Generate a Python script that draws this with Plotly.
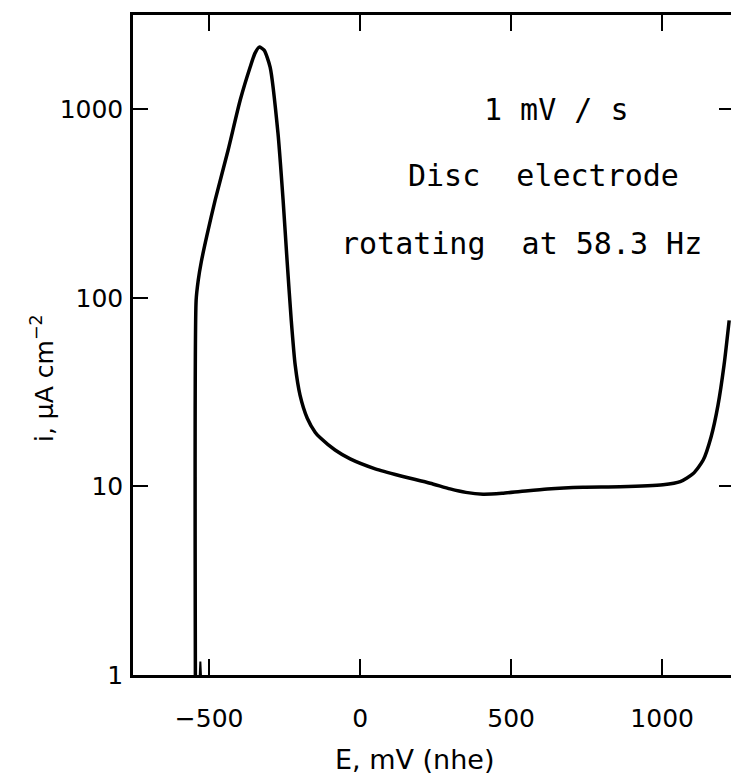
import plotly.graph_objects as go

# Potential (mV vs nhe) and current density (uA cm^-2)
E_mV = [-545, -543, -536, -526, -507, -480, -437, -397, -364, -348, -334, -318,
        -298, -272, -255, -242, -228, -215, -199, -175, -149, -132, -83, -33,
        50, 132, 232, 298, 350, 407, 470, 530, 620, 738, 861, 1003, 1060, 1103,
        1136, 1162, 1185, 1205, 1222]
i_uA = [0.5, 97, 124, 155, 215, 330, 608, 1119, 1675, 1986, 2137, 2060,
        1675, 748, 330, 159, 76, 44, 30.5, 23, 19.4, 18.1, 15.6, 14.0,
        12.4, 11.4, 10.4, 9.7, 9.3, 9.1, 9.2, 9.4, 9.7, 9.9, 9.95, 10.2, 10.6, 11.7,
        13.8, 18.3, 27, 44, 76]

# small artefact spike near the foot of the curve
spike_E = [-531, -529, -527]
spike_i = [1.0, 1.18, 1.0]

x_ticks = [-500, 0, 500, 1000]
x_tick_labels = ["\u2212500", "0", "500", "1000"]
y_ticks = [1, 10, 100, 1000]
y_tick_labels = ["1", "10", "100", "1000"]
right_ticks = [10, 1000]

annotations_text = ["1 mV / s", "Disc  electrode", "rotating  at 58.3 Hz"]

W, H = 731, 778
L, R, T, B = 133, 0, 15, 103
x_range = [-752, 1228]
y_range = [0, 3.5]

fig = go.Figure()
fig.add_trace(go.Scatter(x=E_mV, y=i_uA, mode="lines",
                         line=dict(color="black", width=3.5, shape="spline", smoothing=0.6),
                         showlegend=False, hoverinfo="skip"))
fig.add_trace(go.Scatter(x=spike_E, y=spike_i, mode="lines",
                         line=dict(color="black", width=2),
                         showlegend=False, hoverinfo="skip"))
# invisible trace for right-hand axis ticks
fig.add_trace(go.Scatter(x=[0], y=[10], yaxis="y2", mode="markers",
                         marker=dict(opacity=0), showlegend=False, hoverinfo="skip"))

tick_font = dict(family="DejaVu Sans, sans-serif", size=25, color="black")

fig.update_layout(
    width=W, height=H,
    margin=dict(l=L, r=R, t=T, b=B),
    paper_bgcolor="white", plot_bgcolor="white",
    font=tick_font,
    xaxis=dict(range=x_range, tickvals=x_ticks, ticktext=x_tick_labels,
               ticks="inside", ticklen=16, tickwidth=2, tickcolor="black",
               showline=True, linewidth=2.5, linecolor="black", mirror="ticks",
               showgrid=False, zeroline=False, tickfont=tick_font, ticklabelstandoff=19),
    yaxis=dict(type="log", range=y_range, tickvals=y_ticks, ticktext=y_tick_labels,
               ticks="inside", ticklen=15, tickwidth=2, tickcolor="black",
               showline=True, linewidth=2.5, linecolor="black",
               showgrid=False, zeroline=False, tickfont=tick_font, ticklabelstandoff=2),
    yaxis2=dict(type="log", range=y_range, overlaying="y", side="right",
                tickvals=right_ticks, showticklabels=False,
                ticks="inside", ticklen=12, tickwidth=2, tickcolor="black",
                showline=False, showgrid=False, zeroline=False),
)

plot_w = W - L - R
plot_h = H - T - B

def px_to_paper(px, py):
    return (px - L) / plot_w, (H - B - py) / plot_h

ann_font = dict(family="DejaVu Sans Mono, monospace", size=30, color="black")
ann_pos = [(556, 110), (543, 176), (521, 244)]
for txt, (px, py) in zip(annotations_text, ann_pos):
    xp, yp = px_to_paper(px, py)
    fig.add_annotation(x=xp, y=yp, xref="paper", yref="paper", text=txt,
                       showarrow=False, font=ann_font, xanchor="center", yanchor="middle")

# axis titles
xp, yp = px_to_paper(414, 759)
fig.add_annotation(x=xp, y=yp, xref="paper", yref="paper", text="E, mV (nhe)",
                   showarrow=False, font=dict(family="DejaVu Sans, sans-serif", size=27, color="black"),
                   xanchor="center", yanchor="middle")
xp, yp = px_to_paper(42, 378)
fig.add_annotation(x=xp, y=yp, xref="paper", yref="paper",
                   text="i, \u03bcA cm<sup>\u22122</sup>", textangle=-90,
                   showarrow=False, font=dict(family="DejaVu Sans, sans-serif", size=25, color="black"),
                   xanchor="center", yanchor="middle")

fig.write_html("out.html", config={"displayModeBar": False},
               post_script="document.body.style.margin='0';document.body.style.overflow='hidden';")
